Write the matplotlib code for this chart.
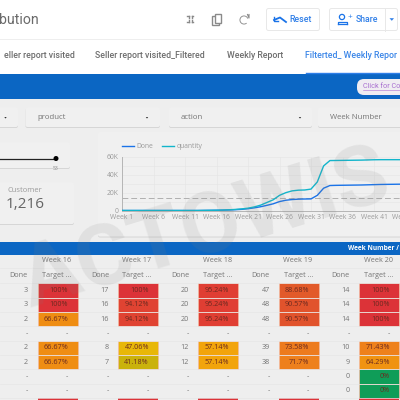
import matplotlib
matplotlib.use('Agg')
import matplotlib.pyplot as plt
from matplotlib.colors import LinearSegmentedColormap
from matplotlib.patches import FancyBboxPatch, Rectangle, Circle, Wedge

plt.rcParams['font.family'] = ['Open Sans', 'DejaVu Sans']

weeks = list(range(1, 49))
done = [0] * 13 + [100, 200, 300, 400, 600, 900, 1300, 2000, 3000, 4200, 5800, 7500, 10000, 11500, 12300, 12700,
                   12900, 13000, 17000, 25000, 28000, 28200, 28300, 28400, 28500, 28600, 28800, 29000, 29200, 29300,
                   29400, 29500, 29500, 29500, 29500]
quantity = [0] * 13 + [100, 200, 300, 500, 800, 1200, 1800, 2600, 4000, 6000, 9000, 12000, 17000, 20000, 22000, 22800,
                       23000, 24000, 32000, 50000, 56000, 56100, 56200, 56300, 56400, 56500, 56700, 56900, 57000,
                       57000, 57000, 57000, 57000, 57000, 57000]
target_line = 13600

table_weeks = ['Week 16', 'Week 17', 'Week 18', 'Week 19', 'Week 20']
done_16 = ['3', '3', '2', '-', '2', '2', '-', '-']
done_17 = ['17', '16', '16', '-', '8', '7', '-', '-']
done_18 = ['20', '20', '20', '-', '12', '12', '-', '-']
done_19 = ['47', '48', '48', '-', '39', '38', '-', '-']
done_20 = ['14', '14', '14', '-', '10', '9', '0', '0']
pct_16 = [100, 100, 66.67, None, 66.67, 66.67, None, None]
pct_17 = [100, 94.12, 94.12, None, 47.06, 41.18, None, None]
pct_18 = [95.24, 95.24, 95.24, None, 57.14, 57.14, None, None]
pct_19 = [88.68, 90.57, 90.57, None, 73.58, 71.7, None, None]
pct_20 = [100, 100, 100, None, 71.43, 64.29, 0, 0]
done_cols = [done_16, done_17, done_18, done_19, done_20]
pct_cols = [pct_16, pct_17, pct_18, pct_19, pct_20]

cmap = LinearSegmentedColormap.from_list('target', [
    (0, '#0f9d58'), (0.41, '#c9b20c'), (0.47, '#e8b708'), (0.57, '#f2a50c'), (0.66, '#ef8f12'),
    (0.72, '#ee7f1c'), (0.89, '#e25a2a'), (0.95, '#e03f33'), (1, '#dc3338')])

TEXT = '#757575'
BLUE = '#0b66c3'

fig = plt.figure(figsize=(4, 4), dpi=100, facecolor='#eeeeee')
ax = fig.add_axes([0, 0, 1, 1])
ax.set_xlim(0, 400)
ax.set_ylim(400, 0)
ax.axis('off')


def card(x0, y0, x1, y1):
    ax.add_patch(FancyBboxPatch((x0, y0 + 1), x1 - x0, y1 - y0, boxstyle='round,pad=0,rounding_size=2',
                                fc='#d6d6d6', ec='none', zorder=1))
    ax.add_patch(FancyBboxPatch((x0, y0), x1 - x0, y1 - y0, boxstyle='round,pad=0,rounding_size=2',
                                fc='#f0f0f0', ec='none', zorder=1.1))


# header
ax.add_patch(Rectangle((0, 0), 400, 74, fc='white', ec='none'))
ax.plot([0, 400], [39, 39], color='#eeeeee', lw=0.7)
ax.text(-1, 20.5, 'bution', fontsize=10.2, family='Roboto', color='#6a6a6a', va='center')
for x, y in [(187, 16), (193, 16), (187, 22), (193, 22)]:
    ax.plot([x, x + 1.5 if x < 190 else x - 1.5], [y, y], color='#8a8a8a', lw=1)
    ax.plot([x + 1.5 if x < 190 else x - 1.5] * 2, [y, y + 2 if y < 19 else y - 2], color='#8a8a8a', lw=1)
ax.add_patch(Rectangle((212, 15.5), 7, 9, fc='white', ec='#8a8a8a', lw=1))
ax.add_patch(Rectangle((212 + 2.5, 13.5), 6.5, 9, fc='white', ec='#8a8a8a', lw=1))
ax.add_patch(Wedge((244, 20), 4.5, 50, 340, width=0.9, fc='#8a8a8a', ec='none'))
ax.plot([247.5, 249, 249], [14.5, 18, 14.5], color='#8a8a8a', lw=0.8)

ax.add_patch(FancyBboxPatch((266.5, 8.5), 53, 22, boxstyle='round,pad=0,rounding_size=2', fc='white',
                            ec='#e8e8e8', lw=0.7))
ax.add_patch(FancyBboxPatch((329.5, 8.5), 68, 22, boxstyle='round,pad=0,rounding_size=2', fc='white',
                            ec='#e8e8e8', lw=0.7))
ax.plot([385, 385], [8.5, 30.5], color='#e8e8e8', lw=0.7)
ax.plot([274, 280, 286], [20, 17.5, 22], color='#1a73e8', lw=1.3)
ax.plot([274, 274, 278], [17, 21, 21], color='#1a73e8', lw=1)
ax.text(289.5, 19.5, 'Reset', fontsize=6.3, family='Roboto', weight='medium', color='#2f7fe8', va='center')
ax.add_patch(Circle((342, 17), 2.6, fc='white', ec='#1a73e8', lw=0.9))
ax.plot([337.5, 337.5, 346.5, 346.5], [24, 22, 22, 24], color='#1a73e8', lw=0.9)
ax.plot([337.5, 346.5], [24, 24], color='#1a73e8', lw=0.9)
ax.text(349.5, 17.5, '+', fontsize=6, color='#1a73e8', ha='center', va='center')
ax.text(356, 19.5, 'Share', fontsize=6.3, family='Roboto', weight='medium', color='#2f7fe8', va='center')
ax.fill([389.5, 394, 391.8], [18.2, 18.2, 20.8], color='#2f7fe8', lw=0)

# tabs
tab_color = '#6d6d6d'
ax.text(75, 56, 'eller report visited', fontsize=6.3, family='Roboto', weight='medium', color=tab_color,
        ha='right', va='center')
ax.text(95, 56, 'Seller report visited_Filtered', fontsize=6.3, family='Roboto', weight='medium', color=tab_color,
        va='center')
ax.text(227, 56, 'Weekly Report', fontsize=6.3, family='Roboto', weight='medium', color=tab_color, va='center')
ax.text(305, 56, 'Filterted_ Weekly Repor', fontsize=6.3, family='Roboto', weight='medium', color='#3b86e8',
        va='center')
ax.plot([306, 400], [72.7, 72.7], color='#2f7fe8', lw=1)

# blue band
ax.add_patch(Rectangle((0, 74), 400, 24.5, fc=BLUE, ec='none'))
ax.add_patch(FancyBboxPatch((357, 79), 60, 16, boxstyle='round,pad=0,rounding_size=7', fc='#f0edf2', ec='none'))
ax.text(363, 86.5, 'Click for Co', fontsize=5.2, family='Roboto', color='#a86fd0', va='center')
ax.plot([363, 400], [90, 90], color='#a86fd0', lw=0.4)

# filter cards
card(-5, 107.5, 18, 127)
card(25.5, 107.5, 160, 127)
card(169, 107.5, 312, 127)
card(318, 107.5, 410, 127)
ax.text(37, 117.5, 'product', fontsize=5.6, color=TEXT, va='center', zorder=3)
ax.text(181, 117.5, 'action', fontsize=5.6, color=TEXT, va='center', zorder=3)
ax.text(329.5, 117.5, 'Week Number', fontsize=5.6, color=TEXT, va='center', zorder=3)
for x in [5.5, 147, 300]:
    ax.fill([x - 1.2, x + 1.2, x], [117, 117, 118.6], color='#333333', lw=0, zorder=3)

# slider and customer cards
card(-5, 142.5, 70, 168)
ax.plot([0, 56], [158.5, 158.5], color='#222222', lw=0.9, zorder=3)
ax.add_patch(Circle((56, 158.5), 2.5, fc='black', ec='none', zorder=3))
ax.text(56, 168.5, '53', fontsize=3.6, color='#8a8a8a', ha='center', va='center', zorder=3)
card(-5, 182.5, 74, 224)
ax.text(25, 190.5, 'Customer', fontsize=5.5, color='#9a9a9a', ha='center', va='center', zorder=3)
ax.text(25, 204, '1,216', fontsize=11, color='#666666', ha='center', va='center', zorder=3)

# chart card
card(98, 132, 410, 236.5)
ax.plot([122, 134], [146, 146], color='#1a73e8', lw=1, zorder=3)
ax.text(136.5, 146, 'Done', fontsize=4.9, color='#9a9a9a', va='center', zorder=3)
ax.plot([162, 174], [146, 146], color='#12b5cb', lw=1, zorder=3)
ax.text(176.5, 146, 'quantity', fontsize=4.9, color='#9a9a9a', va='center', zorder=3)

# table
ax.add_patch(Rectangle((0, 242), 400, 12.5, fc=BLUE, ec='none', zorder=2))
ax.text(348, 248.5, 'Week Number /', fontsize=4.7, weight='bold', color='white', va='center', zorder=3)
ax.plot([0, 400], [268, 268], color='#e6e6e6', lw=0.5)
row_height = 14.35
row_top = 283.3
for r in range(9):
    ax.plot([0, 400], [row_top + r * row_height] * 2, color='#e6e6e6', lw=0.5)

cell_left = [37.5, 117.5, 198, 278.5, 359]
done_right = [28, 109, 189, 270, 350]
pct_right = [68, 149, 229, 309, 390]
for c, week in enumerate(table_weeks):
    ax.text(cell_left[c] + 19.5, 261, week, fontsize=5.2, color=TEXT, ha='center', va='center')
    ax.text(done_right[c], 275.5, 'Done', fontsize=5.2, color=TEXT, ha='right', va='center')
    ax.text(cell_left[c] + 5, 275.5, 'Target ...', fontsize=5.2, color=TEXT, va='center')
    for r in range(8):
        y = row_top + r * row_height
        ax.text(done_right[c], y + row_height / 2, done_cols[c][r], fontsize=5.2, color=TEXT, ha='right', va='center')
        value = pct_cols[c][r]
        if value is None:
            ax.text(pct_right[c], y + row_height / 2, '-', fontsize=5.2, color=TEXT, ha='right', va='center')
        else:
            ax.add_patch(Rectangle((cell_left[c], y), 40, row_height, fc=cmap(value / 100), ec='#f3b9a0', lw=0.5))
            label = f'{value:g}%'
            ax.text(pct_right[c], y + row_height / 2, label, fontsize=5.2, color='#6b2a20', ha='right', va='center',
                    zorder=4)
    ax.add_patch(Rectangle((cell_left[c], row_top + 8 * row_height), 40, 5, fc='#dc3338', ec='none'))

# line chart
chart = fig.add_axes([122 / 400, 1 - 210.5 / 400, 298 / 400, 53.5 / 400], facecolor='none')
chart.plot(weeks, done, color='#1a73e8', lw=1, zorder=3)
chart.plot(weeks, quantity, color='#12b5cb', lw=1, zorder=4)
chart.axhline(target_line, color='#b0b0b0', lw=0.7, ls=(0, (6, 3)), zorder=2)
chart.set_xlim(1, 1 + 298 / 6.3)
chart.set_ylim(0, 60000)
chart.set_xticks(weeks[::5])
chart.set_xticklabels([f'Week {w}' for w in weeks[::5]], fontsize=4.9, color='#9a9a9a')
chart.set_yticks([0, 20000, 40000, 60000])
chart.set_yticklabels(['0', '20K', '40K', '60K'], fontsize=4.9, color='#9a9a9a')
chart.set_yticks([10000, 30000, 50000], minor=True)
chart.tick_params(which='both', length=0, pad=2.5)
chart.grid(True, which='both', color='#e6e6e6', lw=0.5)
chart.set_axisbelow(True)
for side in ['top', 'right']:
    chart.spines[side].set_visible(False)
for side in ['left', 'bottom']:
    chart.spines[side].set_color('#b5b5b5')
    chart.spines[side].set_linewidth(0.7)

# watermark
fig.text(205 / 400, 1 - 230 / 400, 'ACTOWIS', fontsize=62, family='Roboto', weight='bold', color='#808080', alpha=0.13,
         rotation=17, ha='center', va='center', rotation_mode='anchor', zorder=10)

fig.savefig('out.png', dpi=100, facecolor=fig.get_facecolor())
